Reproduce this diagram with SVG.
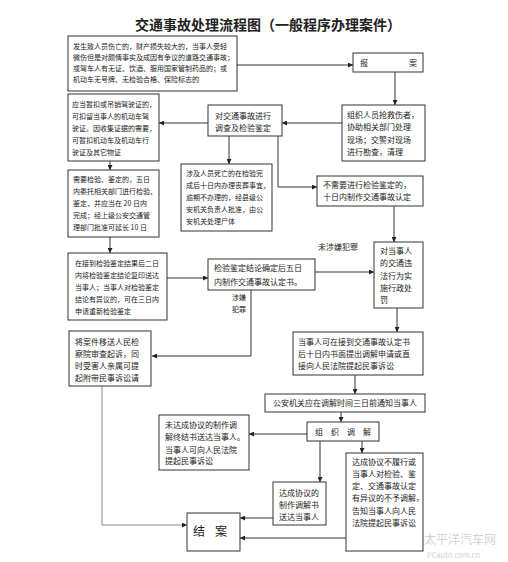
<svg xmlns="http://www.w3.org/2000/svg" width="508" height="562" viewBox="0 0 508 562">
<style>
text{font-family:"Noto Sans CJK SC","Noto Sans CJK JP",sans-serif;fill:#222}
.b{fill:#fff;stroke:#333;stroke-width:1}
.t7{font-size:7px}
.t8{font-size:8px}
.c{fill:none;stroke:#333;stroke-width:1}
.g{fill:none;stroke:#888;stroke-width:1}
.wm{fill:#d4d4d4}
</style>
<defs>
<marker id="a" viewBox="0 0 6 6" refX="6" refY="3" markerWidth="5" markerHeight="5" markerUnits="userSpaceOnUse" orient="auto"><path d="M0,0L6,3L0,6Z" fill="#222"/></marker>
</defs>
<rect width="508" height="562" fill="#fff"/>
<text x="268" y="30" text-anchor="middle" style="font-size:14px;font-weight:bold">交通事故处理流程图（一般程序办理案件）</text>

<g id="connectors">
<path class="c" d="M237,65H353" marker-end="url(#a)"/>
<path class="c" d="M395,72V105" marker-end="url(#a)"/>
<path class="c" d="M342,123H282" marker-end="url(#a)"/>
<path class="c" d="M208,123H159" marker-end="url(#a)"/>
<path class="c" d="M229,136V164" marker-end="url(#a)"/>
<path class="c" d="M278,136V187H317" marker-end="url(#a)"/>
<path class="c" d="M110,161V170" marker-end="url(#a)"/>
<path class="c" d="M394,206V242" marker-end="url(#a)"/>
<path class="c" d="M110,237V253" marker-end="url(#a)"/>
<path class="c" d="M167,278H208" marker-end="url(#a)"/>
<path class="c" d="M315,272H374" marker-end="url(#a)"/>
<text class="t8" x="318" y="250">未涉嫌犯罪</text>
<path class="c" d="M251,290V356H152" marker-end="url(#a)"/>
<text class="t7" x="232" y="300">涉嫌</text>
<text class="t7" x="232" y="312">犯罪</text>
<path class="c" d="M397,308V332" marker-end="url(#a)"/>
<path class="c" d="M355,375V394" marker-end="url(#a)"/>
<path class="c" d="M341,412V422" marker-end="url(#a)"/>
<path class="c" d="M307,434H249" marker-end="url(#a)"/>
<path class="c" d="M320,441V482" marker-end="url(#a)"/>
<path class="c" d="M362,441V453" marker-end="url(#a)"/>
<path class="c" d="M273,518H240" marker-end="url(#a)"/>
<path class="c" d="M346,538H240" marker-end="url(#a)"/>
<path class="g" d="M102,386V525H187" marker-end="url(#a)"/>
</g>

<g id="n1"><rect class="b" x="68" y="36" width="169" height="55"/>
<text class="t7" x="73" y="48.5">发生致人员伤亡的，财产损失较大的，当事人受轻</text>
<text class="t7" x="73" y="59.5">微伤但是对颇情事实及成因有争议的道路交通事故；</text>
<text class="t7" x="73" y="70.5">或驾车人有无证、饮酒、服用国家管制药品的；或</text>
<text class="t7" x="73" y="81.5">机动车无号牌、无检验合格、保险标志的</text></g>

<g id="n2"><rect class="b" x="353" y="53" width="70" height="19"/>
<text class="t8" x="360" y="66">报</text><text class="t8" x="409" y="66">案</text></g>

<g id="n3"><rect class="b" x="342" y="105" width="83" height="56"/>
<text class="t8" x="347" y="118">组织人员抢救伤者，</text>
<text class="t8" x="347" y="130">协助相关部门处理</text>
<text class="t8" x="347" y="143">现场；交警对现场</text>
<text class="t8" x="347" y="155">进行勘查，清理</text></g>

<g id="n4"><rect class="b" x="208" y="105" width="74" height="31"/>
<text class="t8" x="215" y="118.5">对交通事故进行</text>
<text class="t8" x="215" y="130.5">调查及检验鉴定</text></g>

<g id="n5"><rect class="b" x="68" y="94" width="91" height="67"/>
<text class="t7" x="72" y="106.5">应当暂扣或吊销驾驶证的，</text>
<text class="t7" x="72" y="118.5">可扣留当事人的机动车驾</text>
<text class="t7" x="72" y="130.5">驶证。因收集证据的需要，</text>
<text class="t7" x="72" y="142.5">可暂扣机动车及机动车行</text>
<text class="t7" x="72" y="154.5">驶证及其它物证</text></g>

<g id="n6"><rect class="b" x="68" y="170" width="91" height="67"/>
<text class="t7" x="73" y="181.5">需要检验、鉴定的，五日</text>
<text class="t7" x="73" y="193.5">内委托相关部门进行检验、</text>
<text class="t7" x="73" y="205.5">鉴定，并应当在 20 日内</text>
<text class="t7" x="73" y="217.5">完成；经上级公安交通管</text>
<text class="t7" x="73" y="229.5">理部门批准可延长 10 日</text></g>

<g id="n7"><rect class="b" x="181" y="164" width="91" height="67"/>
<text class="t7" x="186" y="175.5">涉及人员死亡的在检验完</text>
<text class="t7" x="186" y="187.5">成后十日内办理丧葬事宜，</text>
<text class="t7" x="186" y="199.5">逾期不办理的，经县级公</text>
<text class="t7" x="186" y="211.5">安机关负责人批准，由公</text>
<text class="t7" x="186" y="223.5">安机关处理尸体</text></g>

<g id="n8"><rect class="b" x="317" y="176" width="106" height="30"/>
<text class="t8" x="323" y="188">不需要进行检验鉴定的，</text>
<text class="t8" x="323" y="200">十日内制作交通事故认定</text></g>

<g id="n9"><rect class="b" x="68" y="253" width="99" height="67"/>
<text class="t7" x="75" y="265.5">在接到检验鉴定结果后二日</text>
<text class="t7" x="75" y="277.5">内将检验鉴定结论复印送达</text>
<text class="t7" x="75" y="289.5">当事人；当事人对检验鉴定</text>
<text class="t7" x="75" y="301.5">结论有异议的，可在三日内</text>
<text class="t7" x="75" y="313.5">申请重新检验鉴定</text></g>

<g id="n10"><rect class="b" x="208" y="259" width="107" height="31"/>
<text class="t8" x="214" y="271">检验鉴定结论确定后五日</text>
<text class="t8" x="214" y="285">内制作交通事故认定书。</text></g>

<g id="n11"><rect class="b" x="374" y="242" width="49" height="66"/>
<text class="t8" x="380" y="254">对当事人</text>
<text class="t8" x="380" y="266">的交通违</text>
<text class="t8" x="380" y="279">法行为实</text>
<text class="t8" x="380" y="291">施行政处</text>
<text class="t8" x="380" y="303">罚</text></g>

<g id="n12"><rect class="b" x="69" y="331" width="82" height="55"/>
<text class="t8" x="75" y="345">将案件移送人民检</text>
<text class="t8" x="75" y="357">察院审查起诉，同</text>
<text class="t8" x="75" y="369">时受害人亲属可提</text>
<text class="t8" x="75" y="381">起附带民事诉讼请</text></g>

<g id="n13"><rect class="b" x="293" y="332" width="130" height="43"/>
<text class="t8" x="298" y="345">当事人可在接到交通事故认定书</text>
<text class="t8" x="298" y="357">后十日内书面提出调解申请或直</text>
<text class="t8" x="298" y="369">接向人民法院提起民事诉讼</text></g>

<g id="n14"><rect class="b" x="265" y="394" width="160" height="18"/>
<text class="t8" x="345" y="406" text-anchor="middle">公安机关应在调解时间三日前通知当事人</text></g>

<g id="n15"><rect class="b" x="307" y="422" width="72" height="19"/>
<text class="t8" x="315" y="435" letter-spacing="8">组织调解</text></g>

<g id="n16"><rect class="b" x="159" y="415" width="90" height="55"/>
<text class="t8" x="165" y="428">未达成协议的制作调</text>
<text class="t8" x="165" y="440">解终结书送达当事人。</text>
<text class="t8" x="165" y="453">当事人可向人民法院</text>
<text class="t8" x="165" y="464">提起民事诉讼</text></g>

<g id="n17"><rect class="b" x="273" y="482" width="53" height="43"/>
<text class="t8" x="279" y="496">达成协议的</text>
<text class="t8" x="279" y="508">制作调解书</text>
<text class="t8" x="279" y="520">送达当事人</text></g>

<g id="n18"><rect class="b" x="346" y="453" width="77" height="98"/>
<text class="t8" x="352" y="465">达成协议不履行或</text>
<text class="t8" x="352" y="477">当事人对检验、鉴</text>
<text class="t8" x="352" y="489">定、交通事故认定</text>
<text class="t8" x="352" y="501">有异议的不予调解，</text>
<text class="t8" x="352" y="514">告知当事人向人民</text>
<text class="t8" x="352" y="526">法院提起民事诉讼</text></g>

<g id="n19"><rect class="b" x="187" y="513" width="53" height="38"/>
<text x="193" y="536" style="font-size:12px" letter-spacing="10">结案</text></g>

<g id="watermark">
<text class="wm" x="424" y="544" style="font-size:12px">太平洋汽车网</text>
<text class="wm" x="427" y="558" style="font-size:7.5px">PCauto.com.cn</text>
</g>
</svg>
